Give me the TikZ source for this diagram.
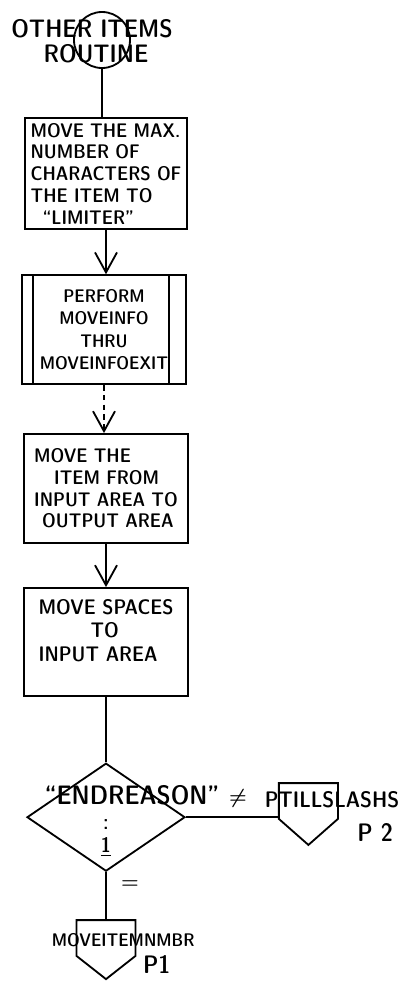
\documentclass[tikz,border=0pt]{standalone}
\usepackage{amsmath}
\usepackage{tikz}
\usetikzlibrary{arrows.meta, positioning, shapes.geometric, calc}

\newcommand{\hand}[2]{\sffamily\fontseries{sbc}\fontsize{#1}{#2}\selectfont}

\begin{document}
\begin{tikzpicture}[
  line width=1.3pt,
  font=\hand{14}{15.5},
  box/.style={rectangle,draw,minimum width=4.1cm,minimum height=2.72cm,
              inner xsep=0.1cm,align=left},
  arrow/.style={-{Straight Barb[length=5mm,width=5.5mm]}},
  offpage/.style={rectangle,minimum width=1.43cm,minimum height=0.85cm,inner sep=0pt},
  tag/.style={inner sep=1pt}
]
  \useasboundingbox (0,0) rectangle (10.325,-24.925);

  \node[circle,draw,minimum size=1.4cm] (start) at (2.55,-1.0) {};
  \node[tag,align=center,font=\hand{18}{18}] (startlbl) at (2.3,-1.03)
    {OTHER ITEMS\\\hspace*{0.2cm}ROUTINE};

  \node[box,minimum width=4.05cm,minimum height=2.58cm] (box1) at (2.65,-4.34)
    {MOVE THE MAX.\\NUMBER OF\\CHARACTERS OF\\THE ITEM TO\\\hspace*{0.3cm}``LIMITER''};
  \node[box,align=center,font=\hand{13}{16}] (box2) at (2.6,-8.24)
    {PERFORM\\MOVEINFO\\THRU\\MOVEINFOEXIT};
  \node[box] (box3) at (2.65,-12.21)
    {MOVE THE\\\hspace*{0.5cm}ITEM FROM\\INPUT AREA TO\\\hspace*{0.2cm}OUTPUT AREA};
  \node[box,minimum height=2.7cm,font=\hand{15}{16.5}] (box4) at (2.65,-16.05)
    {MOVE SPACES\\\hspace*{1.3cm}TO\\INPUT AREA\\\mbox{}};
  \node[diamond,draw,minimum width=3.95cm,minimum height=2.7cm,inner sep=0pt] (dec) at (2.65,-20.43) {};
  \node[tag,font=\hand{19}{20}] (declbl) at (3.3,-19.88) {``ENDREASON''};
  \node[tag,align=center,font=\hand{15}{16}] (decval) at (2.65,-20.95)
    {:\\\underline{1}};

  \node[offpage] (pg2) at (7.71,-20.025) {};
  \node[offpage] (pg1) at (2.65,-23.45) {};
  \node[tag,font=\Large] (neq) at (5.95,-19.95) {$\boldsymbol{\neq}$};
  \node[tag,font=\hand{16}{18}] (pg2lbl) at (8.3,-20.0) {PTILLSLASHS};
  \node[tag,font=\hand{18}{20}] (pg2pg) at (9.38,-20.8) {P 2};
  \node[tag,font=\Large] (eq) at (3.25,-22.12) {$\boldsymbol{=}$};
  \node[tag,font=\hand{13}{14}] (pg1lbl) at (3.08,-23.5) {MOVEITEMNMBR};
  \node[tag,font=\hand{18}{20}] (pg1pg) at (3.92,-24.12) {P1};

  \draw ([xshift=0.3cm]box2.north west) -- ([xshift=0.3cm]box2.south west);
  \draw ([xshift=-0.45cm]box2.north east) -- ([xshift=-0.45cm]box2.south east);
  \draw (pg2.south west) -- (pg2.north west) -- (pg2.north east) -- (pg2.south east)
    -- ($(pg2.south)+(0,-0.65)$) -- cycle;
  \draw (pg1.south west) -- (pg1.north west) -- (pg1.north east) -- (pg1.south east)
    -- ($(pg1.south)+(0,-0.58)$) -- cycle;

  \draw (start.south) -- (start.south |- box1.north);
  \draw[arrow] (box1.south) -- (box1.south |- box2.north);
  \draw[arrow,dash pattern=on 4pt off 3pt] (box2.south) -- (box2.south |- box3.north);
  \draw[arrow] (box3) -- (box4);
  \draw (box4) -- (dec);
  \draw (dec.east) -- (dec.east -| pg2.west);
  \draw (dec.south) -- (pg1.north);
\end{tikzpicture}
\end{document}
